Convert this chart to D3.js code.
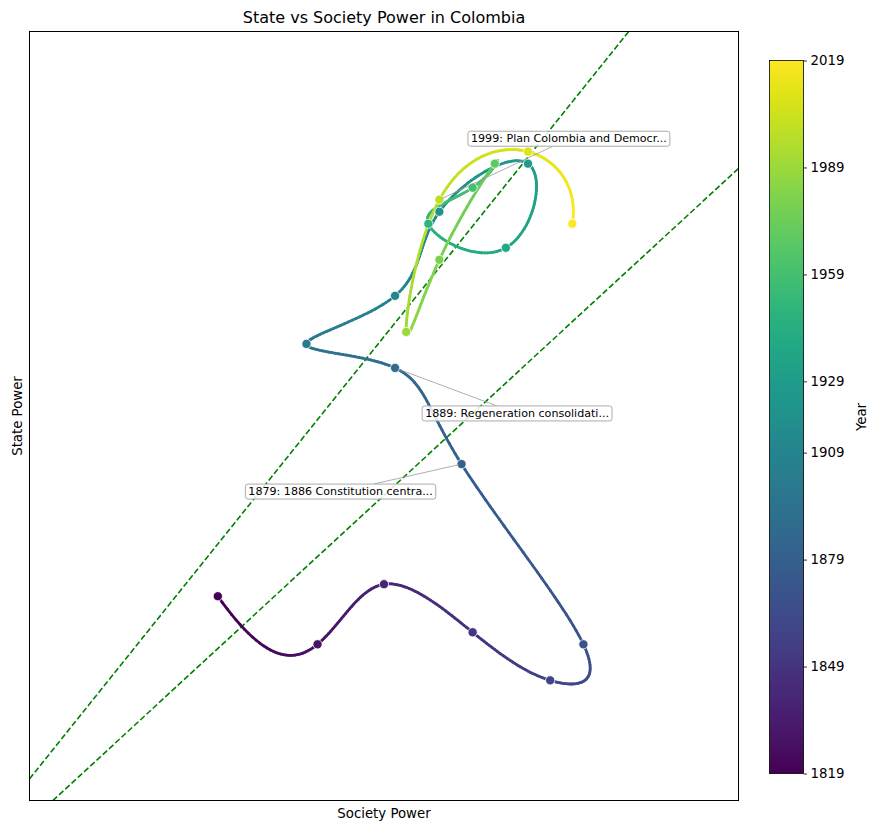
<!DOCTYPE html>
<html><head><meta charset="utf-8">
<script src="https://cdn.jsdelivr.net/npm/d3@7"></script>
<style>body{margin:0;background:#fff} text{font-family:"DejaVu Sans",sans-serif;fill:#000}</style>
</head><body><svg id="c" width="879" height="831"></svg>
<script>
const years = [1819,1829,1839,1849,1859,1869,1879,1889,1899,1909,1919,1929,1939,1949,1959,1969,1979,1989,1999,2009,2019];
const societyPower = [2.9,3.8,4.4,5.2,5.9,6.2,5.1,4.5,3.7,4.5,4.9,5.7,5.5,4.8,5.2,5.4,4.9,4.6,4.9,5.7,6.1];
const statePower   = [2.9,2.5,3.0,2.6,2.2,2.5,4.0,4.8,5.0,5.4,6.1,6.5,5.8,6.0,6.3,6.5,5.7,5.1,6.2,6.6,6.0];
const balanceSlopes = [1.15, 0.85];
const colorbarTicks = [1819,1849,1879,1909,1929,1959,1989,2019];
const annotationYears = [1879, 1889, 1999];
const annotationTexts = ["1879: 1886 Constitution centra...", "1889: Regeneration consolidati...", "1999: Plan Colombia and Democr..."];
const axisDomain = [1.2, 7.6];

const svg = d3.select("#c");
const L = 29.5, R = 738.5, T = 31.5, B = 800.5;
const x = d3.scaleLinear().domain(axisDomain).range([L, R]);
const y = d3.scaleLinear().domain(axisDomain).range([B, T]);
const color = d3.scaleSequential(d3.interpolateViridis).domain([d3.min(years), d3.max(years)]);

svg.append("defs").append("clipPath").attr("id","clip")
  .append("rect").attr("x",L).attr("y",T).attr("width",R-L).attr("height",B-T);

// not-a-knot cubic spline
function spline(t, v) {
  const n = t.length;
  const A = Array.from({length:n}, () => new Array(n+1).fill(0));
  const h = []; for (let i=0;i<n-1;i++) h.push(t[i+1]-t[i]);
  A[0][0] = h[1]; A[0][1] = -(h[0]+h[1]); A[0][2] = h[0];
  for (let i=1;i<n-1;i++){
    A[i][i-1]=h[i-1]; A[i][i]=2*(h[i-1]+h[i]); A[i][i+1]=h[i];
    A[i][n]=6*((v[i+1]-v[i])/h[i]-(v[i]-v[i-1])/h[i-1]);
  }
  A[n-1][n-3]=h[n-2]; A[n-1][n-2]=-(h[n-3]+h[n-2]); A[n-1][n-1]=h[n-3];
  for (let c=0;c<n;c++){
    let p=c; for(let r=c+1;r<n;r++) if(Math.abs(A[r][c])>Math.abs(A[p][c])) p=r;
    [A[c],A[p]]=[A[p],A[c]];
    for(let r=0;r<n;r++){ if(r===c) continue; const f=A[r][c]/A[c][c]; for(let k=c;k<=n;k++) A[r][k]-=f*A[c][k]; }
  }
  const M = A.map((row,i)=>row[n]/row[i]);
  return function(tt){
    let i = Math.min(n-2, Math.max(0, d3.bisectRight(t, tt)-1));
    const hh=h[i], a=t[i+1]-tt, b=tt-t[i];
    return M[i]*a*a*a/(6*hh)+M[i+1]*b*b*b/(6*hh)+(v[i]/hh-M[i]*hh/6)*a+(v[i+1]/hh-M[i+1]*hh/6)*b;
  };
}
const sx = spline(years, societyPower), sy = spline(years, statePower);
const samples = [];
const y0 = d3.min(years), y1 = d3.max(years), N = 600;
for (let k=0;k<=N;k++){ const tt = y0+(y1-y0)*k/N; samples.push({t:tt, x:sx(tt), y:sy(tt)}); }

const plot = svg.append("g").attr("clip-path","url(#clip)");
// balance lines
balanceSlopes.forEach(m=>{
  plot.append("line")
    .attr("x1", x(0)).attr("y1", y(0)).attr("x2", x(10)).attr("y2", y(10*m))
    .attr("stroke","#008000").attr("stroke-width",1.6).attr("stroke-dasharray","5.9,2.6");
});
// colored curve
const segs = d3.pairs(samples);
plot.append("g").selectAll("line").data(segs).join("line")
  .attr("x1",d=>x(d[0].x)).attr("y1",d=>y(d[0].y)).attr("x2",d=>x(d[1].x)).attr("y2",d=>y(d[1].y))
  .attr("stroke",d=>color((d[0].t+d[1].t)/2)).attr("stroke-width",2.8).attr("stroke-linecap","round");
// points
const pts = years.map((yr,i)=>({yr, sp:societyPower[i], st:statePower[i]}));
plot.append("g").selectAll("circle").data(pts).join("circle")
  .attr("cx",d=>x(d.sp)).attr("cy",d=>y(d.st)).attr("r",4.6)
  .attr("fill",d=>color(d.yr)).attr("stroke","#fff").attr("stroke-width",0.8);

// frame
svg.append("rect").attr("x",L).attr("y",T).attr("width",R-L).attr("height",B-T)
  .attr("fill","none").attr("stroke","#000").attr("stroke-width",1);

// annotations
const annOffsets = {1879:[-121,27.5], 1889:[122,45.5], 1999:[129.5,-61]};
annotationYears.forEach((yr,j)=>{
  const i = years.indexOf(yr);
  const px = x(societyPower[i]), py = y(statePower[i]);
  const cx = px + annOffsets[yr][0], cy = py + annOffsets[yr][1];
  const g = svg.append("g");
  const line = g.append("line");
  const rect = g.append("rect");
  const txt = g.append("text").attr("x",cx).attr("y",cy).attr("text-anchor","middle")
    .attr("dominant-baseline","central").attr("font-size","11.1px").text(annotationTexts[j]);
  const bb = txt.node().getBBox();
  const hw = bb.width/2+3, hh = 7.5;
  rect.attr("x",cx-hw).attr("y",cy-hh).attr("width",2*hw).attr("height",2*hh).attr("rx",2.5)
    .attr("fill","#fff").attr("fill-opacity",0.85).attr("stroke","#aaa").attr("stroke-width",1);
  const dx = px-cx, dy = py-cy;
  const tt = Math.min(hw/Math.abs(dx||1e-9), hh/Math.abs(dy||1e-9));
  const len = Math.hypot(dx,dy);
  line.attr("x1",cx+dx*tt).attr("y1",cy+dy*tt).attr("x2",px-dx/len*2.5).attr("y2",py-dy/len*2.5)
    .attr("stroke","#999").attr("stroke-width",0.8);
});

// titles
svg.append("text").attr("x",(L+R)/2).attr("y",23).attr("text-anchor","middle").attr("font-size","16px")
  .text("State vs Society Power in Colombia");
svg.append("text").attr("x",(L+R)/2).attr("y",818).attr("text-anchor","middle").attr("font-size","13.3px")
  .text("Society Power");
svg.append("text").attr("transform",`translate(22,${(T+B)/2}) rotate(-90)`).attr("text-anchor","middle")
  .attr("font-size","13.3px").text("State Power");

// colorbar
const cbL = 769.5, cbR = 803.5, cbT = 60.5, cbB = 773.5;
const grad = svg.select("defs").append("linearGradient").attr("id","vir")
  .attr("x1",0).attr("y1",1).attr("x2",0).attr("y2",0);
d3.range(0,1.0001,0.02).forEach(f=>grad.append("stop").attr("offset",f).attr("stop-color",d3.interpolateViridis(f)));
svg.append("rect").attr("x",cbL).attr("y",cbT).attr("width",cbR-cbL).attr("height",cbB-cbT)
  .attr("fill","url(#vir)").attr("stroke","#000").attr("stroke-width",0.8);
const cy = d3.scaleLinear().domain([y0,y1]).range([cbB,cbT]);
const cax = svg.append("g").attr("transform",`translate(${cbR},0)`)
  .call(d3.axisRight(cy).tickValues(colorbarTicks).tickFormat(d3.format("d")).tickSize(3.5).tickPadding(3.5));
cax.select(".domain").remove();
cax.selectAll("text").attr("font-size","13.3px").attr("font-family","DejaVu Sans");
cax.selectAll("line").attr("stroke","#000").attr("stroke-width",0.8);
svg.append("text").attr("transform",`translate(866,${(cbT+cbB)/2}) rotate(-90)`).attr("text-anchor","middle")
  .attr("font-size","13.3px").text("Year");
</script></body></html>
